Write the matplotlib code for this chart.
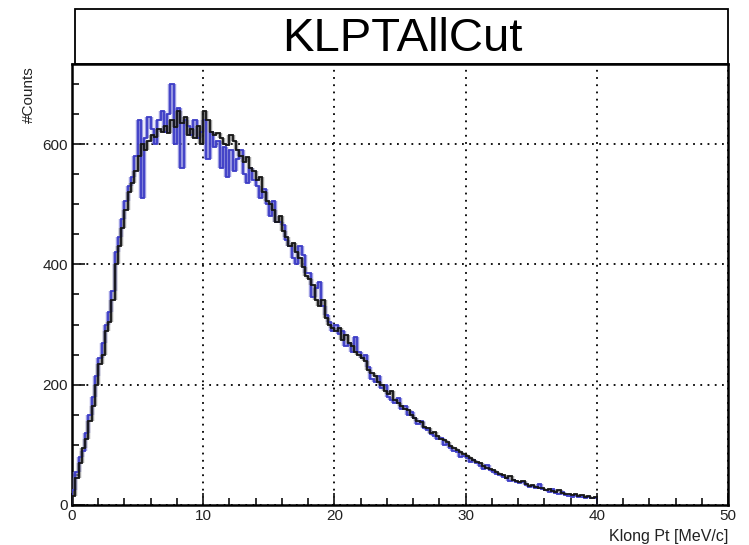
"""Klong Pt after all cuts: two overlaid 0.25 MeV/c histograms."""

import matplotlib

matplotlib.use("Agg")

import matplotlib.pyplot as plt
import numpy as np
from matplotlib.patches import Rectangle
from matplotlib.ticker import MultipleLocator

BIN_WIDTH = 0.25
PT_MIN = 0.0

# counts per bin, 0 -> 40 MeV/c (4 bins per unit)
counts_black = [
    15, 45, 70, 95, 110, 140, 165, 200, 235, 250, 290, 305,
    340, 400, 430, 460, 490, 520, 535, 555, 580, 600, 590, 605,
    615, 612, 625, 620, 630, 618, 640, 628, 655, 635, 645, 615,
    625, 610, 630, 600, 655, 640, 620, 615, 618, 610, 600, 598,
    615, 605, 590, 580, 570, 578, 560, 555, 540, 545, 520, 505,
    500, 490, 470, 480, 455, 445, 430, 435, 420, 410, 395, 380,
    375, 365, 340, 330, 340, 310, 300, 295, 290, 295, 275, 282,
    270, 265, 255, 250, 245, 240, 225, 220, 215, 205, 200, 190,
    185, 190, 175, 170, 165, 160, 158, 150, 145, 140, 138, 130,
    128, 120, 122, 115, 110, 108, 105, 98, 95, 92, 88, 85,
    82, 78, 75, 72, 70, 65, 62, 60, 58, 55, 52, 50,
    45, 48, 42, 40, 38, 40, 35, 32, 33, 30, 28, 29,
    25, 27, 24, 22, 25, 20, 19, 18, 17, 18, 15, 16,
    14, 15, 12, 13,
]

counts_blue = [
    25, 55, 80, 90, 120, 150, 180, 215, 245, 270, 300, 320,
    355, 420, 445, 475, 505, 530, 545, 580, 640, 510, 610, 645,
    625, 600, 640, 655, 620, 650, 700, 600, 660, 560, 640, 630,
    615, 640, 610, 620, 640, 575, 620, 595, 605, 560, 595, 545,
    590, 555, 575, 590, 550, 535, 560, 540, 530, 510, 525, 500,
    480, 505, 470, 470, 465, 440, 430, 410, 400, 430, 415, 385,
    385, 345, 360, 370, 330, 315, 305, 290, 300, 285, 290, 265,
    270, 255, 280, 255, 245, 250, 230, 210, 205, 215, 195, 200,
    180, 175, 170, 178, 160, 165, 150, 155, 145, 135, 140, 128,
    125, 118, 115, 110, 112, 100, 102, 95, 90, 88, 80, 82,
    78, 72, 75, 70, 65, 60, 66, 58, 55, 52, 50, 47,
    45, 40, 42, 38, 36, 38, 34, 30, 32, 28, 35, 27,
    25, 22, 26, 20, 18, 22, 17, 15, 14, 16, 13, 14,
    12, 14, 11, 12,
]

x_ticks = [0, 10, 20, 30, 40, 50]
y_ticks = [0, 200, 400, 600]

plt.rcParams["font.family"] = ["Liberation Sans", "DejaVu Sans"]


def draw_hist(ax, counts, thin, thick, alpha):
    counts = np.asarray(counts, dtype=float)
    edges = PT_MIN + BIN_WIDTH * np.arange(len(counts) + 1)
    # fat risers between neighbouring bins, then the thin step outline
    lo = np.minimum(counts[:-1], counts[1:])
    hi = np.maximum(counts[:-1], counts[1:])
    ax.vlines(edges[1:-1], lo, hi, color=thick, lw=3.2, alpha=alpha, zorder=3)
    ax.stairs(counts, edges, baseline=0, color=thin, lw=1.3, zorder=4)


fig = plt.figure(figsize=(7.49, 5.45), dpi=100)
ax = fig.add_axes([72 / 749, 1 - 505 / 545, 656 / 749, 441 / 545])

draw_hist(ax, counts_blue, "#3c3cc6", "#7474d6", 0.7)
draw_hist(ax, counts_black, "#151515", "#666666", 0.6)

ax.set_xlim(0, 50)
ax.set_ylim(0, 733)
ax.xaxis.set_major_locator(MultipleLocator(10))
ax.xaxis.set_minor_locator(MultipleLocator(2))
ax.yaxis.set_major_locator(MultipleLocator(200))
ax.yaxis.set_minor_locator(MultipleLocator(50))
ax.set_xticks(x_ticks)
ax.set_yticks(y_ticks)
ax.tick_params(which="both", direction="in", top=False, right=False,
               labelsize=11, colors="#222222", width=1.3)
ax.tick_params(which="major", length=9, pad=3)
ax.tick_params(which="minor", length=5)
ax.grid(True, which="major", ls=(0, (1, 3)), color="black", lw=1.3)
ax.set_axisbelow(True)
for sp in ax.spines.values():
    sp.set_linewidth(1.8)

ax.set_xlabel("Klong Pt [MeV/c]", fontsize=11.5, loc="right", labelpad=4,
              color="#222222")
ax.text(-0.066, 0.866, "#Counts", transform=ax.transAxes, rotation=90,
        ha="center", va="bottom", fontsize=11, color="#222222")

# title box on top of the frame
fig.patches.append(Rectangle((75 / 749, 1 - 64 / 545), 653 / 749, 55 / 545,
                             transform=fig.transFigure, fill=False,
                             edgecolor="black", lw=1.3))
fig.text(0.537, 1 - 39 / 545, "KLPTAllCut", fontsize=34, ha="center",
         va="center")

fig.savefig("out.png", dpi=100)
